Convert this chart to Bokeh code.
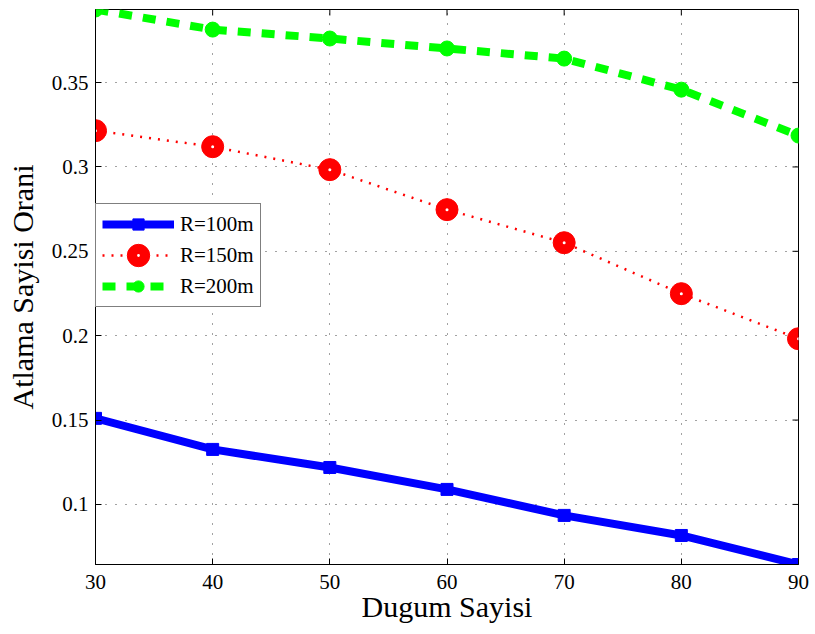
import math
from bokeh.plotting import figure
from bokeh.models import Range1d, FixedTicker, Legend, LegendItem
from bokeh.embed import file_html
from bokeh.resources import INLINE

nodes = [30, 40, 50, 60, 70, 80, 90]
r100 = [0.1510, 0.1326, 0.1219, 0.1089, 0.0935, 0.0816, 0.0644]
r150 = [0.3215, 0.3120, 0.2984, 0.2747, 0.2551, 0.2249, 0.1982]
r200 = [0.3933, 0.3814, 0.3761, 0.3702, 0.3642, 0.3458, 0.3186]
series_labels = ["R=100m", "R=150m", "R=200m"]
x_ticks = [30, 40, 50, 60, 70, 80, 90]
y_ticks = [0.1, 0.15, 0.2, 0.25, 0.3, 0.35]
y_tick_labels = ["0.1", "0.15", "0.2", "0.25", "0.3", "0.35"]
x_label = "Dugum Sayisi"
y_label = "Atlama Sayisi Orani"

FONT = "Liberation Serif"

x_lo, x_hi = min(nodes), max(nodes)
y_lo, y_hi = min(r100), max(r200)

p = figure(width=815, height=634, output_backend="svg", toolbar_location=None,
           x_range=Range1d(x_lo, x_hi), y_range=Range1d(y_lo, y_hi),
           min_border_left=95, min_border_right=17, min_border_top=9, min_border_bottom=70)
p.background_fill_color = "white"
p.border_fill_color = "white"
p.outline_line_color = "black"
p.outline_line_width = 1

for ax in [p.xaxis[0], p.yaxis[0]]:
    ax.axis_line_color = "black"
    ax.major_tick_in = 6
    ax.major_tick_out = 0
    ax.minor_tick_line_color = None
    ax.major_tick_line_color = "black"
    ax.major_label_text_font = FONT
    ax.major_label_text_font_size = "21px"
    ax.major_label_text_color = "black"
    ax.axis_label_text_font = FONT
    ax.axis_label_text_font_size = "30px"
    ax.axis_label_text_font_style = "normal"
    ax.axis_label_text_color = "black"

p.xaxis.ticker = FixedTicker(ticks=x_ticks)
p.yaxis.ticker = FixedTicker(ticks=y_ticks)
p.yaxis.major_label_overrides = {t: l for t, l in zip(y_ticks, y_tick_labels)}
p.xaxis.axis_label = x_label
p.yaxis.axis_label = y_label
p.xaxis.major_label_standoff = 10
p.yaxis.major_label_standoff = 7
p.xaxis.axis_label_standoff = -2
p.yaxis.axis_label_standoff = 10

p.xgrid.ticker = FixedTicker(ticks=x_ticks)
p.ygrid.ticker = FixedTicker(ticks=y_ticks)
p.grid.grid_line_color = "#444444"
p.grid.grid_line_dash = "1 9"
p.grid.grid_line_width = 1

# inward ticks on the right and top edges of the box (clipped to frame)
p.scatter([x_hi] * len(y_ticks), y_ticks, marker="dash", size=12,
          line_color="black", line_width=1)
p.scatter(x_ticks, [y_hi] * len(x_ticks), marker="dash", size=12, angle=math.pi / 2,
          line_color="black", line_width=1)

# R=100
l1 = p.line(nodes, r100, line_color="#0000ff", line_width=8, line_join="round")
m1 = p.scatter(nodes, r100, marker="square", size=12, fill_color="#0000ff", line_color="#0000ff")
# R=150
l2 = p.line(nodes, r150, line_color="#ff0000", line_width=2.5, line_dash="2 7")
m2 = p.ellipse(nodes, r150, width=22, height=22, width_units="screen", height_units="screen",
               fill_color="#ff0000", line_color="#ff0000")
m2b = p.scatter(nodes, r150, marker="dot", size=12, line_color="white", fill_color="white")
# R=200
l3 = p.line(nodes, r200, line_color="#00ff00", line_width=8, line_dash="13 11")
m3 = p.scatter(nodes, r200, marker="circle", size=15, fill_color="#00ff00", line_color="#00ff00")

legend = Legend(items=[
    LegendItem(label=series_labels[0], renderers=[l1, m1]),
    LegendItem(label=series_labels[1], renderers=[l2, m2, m2b]),
    LegendItem(label=series_labels[2], renderers=[l3, m3]),
], location=(0, 257))
legend.label_text_font = FONT
legend.label_text_font_size = "21px"
legend.label_text_color = "black"
legend.glyph_width = 72
legend.glyph_height = 28
legend.label_height = 28
legend.label_standoff = 6
legend.spacing = 3
legend.padding = 6
legend.margin = 0
legend.border_line_color = "black"
legend.border_line_width = 1
legend.background_fill_alpha = 1
p.add_layout(legend, "center")

open("out.html", "w").write(file_html(p, INLINE))
